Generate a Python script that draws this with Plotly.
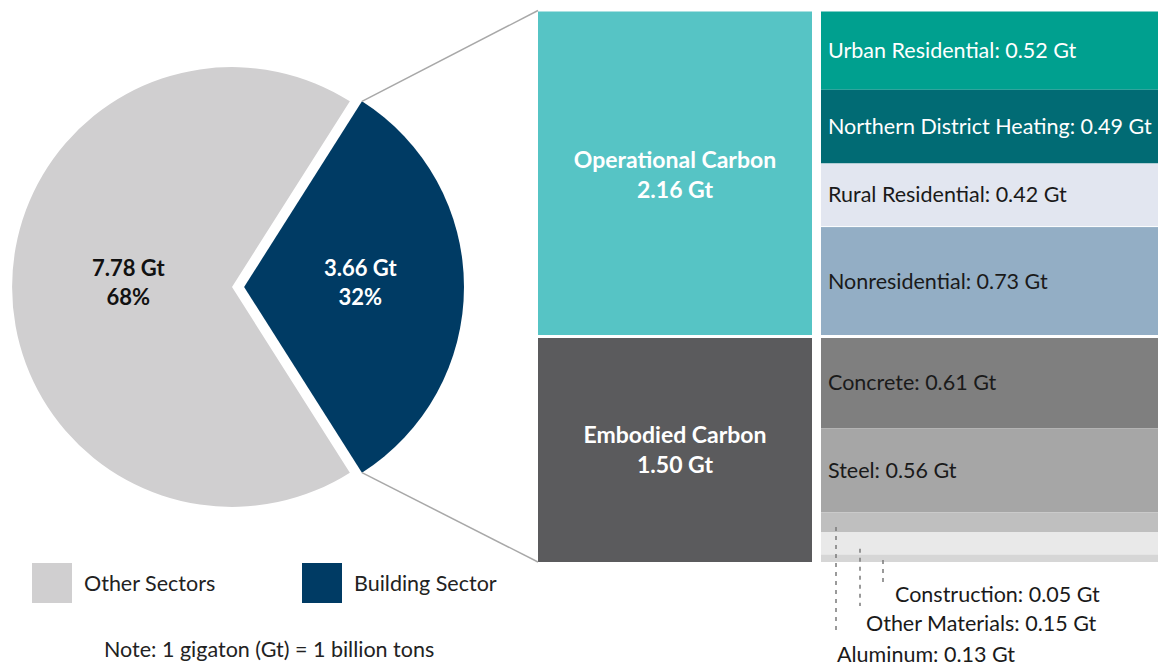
import math
import numpy as np
import plotly.graph_objects as go

# ---------------- data ----------------
pie_labels = ["Building Sector", "Other Sectors"]
pie_values = [3.66, 7.78]
pie_colors = ["#003B64", "#D0CFD0"]
pie_text_colors = ["#FFFFFF", "#111111"]

col1_labels = ["Operational Carbon", "Embodied Carbon"]
col1_values = [2.16, 1.50]
col1_colors = ["#56C4C5", "#5B5B5D"]

col2_labels = ["Urban Residential", "Northern District Heating", "Rural Residential",
               "Nonresidential", "Concrete", "Steel", "Aluminum", "Other Materials",
               "Construction"]
col2_values = [0.52, 0.49, 0.42, 0.73, 0.61, 0.56, 0.13, 0.15, 0.05]
col2_colors = ["#00A08F", "#016B74", "#E2E6F0", "#93AEC5", "#7F7F7F", "#A6A6A6",
               "#BFBFBF", "#E9E9E9", "#D6D6D6"]
col2_text_colors = ["#FFFFFF", "#FFFFFF", "#1A1A1A", "#1A1A1A", "#1A1A1A", "#1A1A1A",
                    "#1A1A1A", "#1A1A1A", "#1A1A1A"]

note_text = "Note: 1 gigaton (Gt) = 1 billion tons"

# ---------------- layout constants ----------------
W, H = 1158, 667
FONT = "Lato, 'Source Sans Pro', sans-serif"
FS = 21.5        # regular text size
FS_B1 = 23       # bold block labels
FS_B2 = 22       # bold pie labels
PX_TOP, PX_BOT = 11.5, 562.0
TOTAL = sum(col1_values)
SCALE = (PX_BOT - PX_TOP) / TOTAL


def gy(px):
    return (px - PX_TOP) / SCALE


Y_RANGE = [gy(H), gy(0)]

C1_X0, C1_X1 = 538, 812
C2_X0, C2_X1 = 821, 1158

# pie geometry (pixels)
PIE_CX, PIE_CY, PIE_HALF = 232, 287, 232
PULL = 0.055
LABEL_R = [0.53, 0.47]
LABEL_DY = -5
TEXT_DY = 2   # col2 labels sit slightly below block centres

fig = go.Figure()

# ---------------- pie ----------------
blue_angle = 360 * pie_values[0] / sum(pie_values)
rotation = 90 - blue_angle / 2
fig.add_trace(go.Pie(
    labels=pie_labels, values=pie_values, sort=False, direction="clockwise",
    rotation=rotation, pull=[PULL, 0],
    marker=dict(colors=pie_colors, line=dict(width=0)),
    textinfo="none",
    domain=dict(x=[(PIE_CX - PIE_HALF) / W, (PIE_CX + PIE_HALF) / W],
                y=[(H - PIE_CY - PIE_HALF - 2) / H, (H - PIE_CY + PIE_HALF + 2) / H]),
    showlegend=False, hoverinfo="label+value",
))

r = 2 * PIE_HALF / (2 + 2 * PULL)
total_pie = sum(pie_values)
# pie labels placed along each slice's mid-angle
start = 90 - rotation  # math angle (deg, ccw from +x) where first slice begins
for i, v in enumerate(pie_values):
    span = 360 * v / total_pie
    mid = math.radians(start - span / 2)
    start -= span
    off = PULL * r if i == 0 else 0
    lx = PIE_CX + (LABEL_R[i] * r + off) * math.cos(mid)
    ly = PIE_CY - (LABEL_R[i] * r + off) * math.sin(mid) + LABEL_DY
    fig.add_annotation(x=lx, y=gy(ly), xref="x", yref="y", showarrow=False,
                       text=f"<b>{v:.2f} Gt<br>{100 * v / total_pie:.0f}%</b>",
                       font=dict(size=FS_B2, color=pie_text_colors[i], family=FONT))

# ---------------- stacked blocks ----------------
base1 = np.concatenate([[0], np.cumsum(col1_values)[:-1]])
fig.add_trace(go.Bar(
    x=[(C1_X0 + C1_X1) / 2] * len(col1_values), y=col1_values, base=base1,
    width=C1_X1 - C1_X0,
    marker=dict(color=col1_colors, line=dict(width=0)),
    text=[f"<b>{l}<br>{v:.2f} Gt</b>" for l, v in zip(col1_labels, col1_values)],
    textposition="inside", insidetextanchor="middle", textangle=0,
    textfont=dict(size=FS_B1, color="white", family=FONT),
    showlegend=False, hoverinfo="skip",
))

base2 = np.concatenate([[0], np.cumsum(col2_values)[:-1]])
fig.add_trace(go.Bar(
    x=[(C2_X0 + C2_X1) / 2] * len(col2_values), y=col2_values, base=base2,
    width=C2_X1 - C2_X0,
    marker=dict(color=col2_colors, line=dict(width=0)),
    showlegend=False, hoverinfo="skip",
))

# white separators: between operational / embodied groups, and a thin one in col2
fig.add_shape(type="line", xref="x", yref="y", x0=C1_X0 - 2, x1=C2_X1,
              y0=col1_values[0], y1=col1_values[0], line=dict(color="white", width=3))
sep_thin = base2[3]
fig.add_shape(type="line", xref="x", yref="y", x0=C2_X0, x1=C2_X1,
              y0=sep_thin, y1=sep_thin, line=dict(color="white", width=1))

mid2 = base2 + np.array(col2_values) / 2
n_in = 6
fig.add_trace(go.Scatter(
    x=[C2_X0 + 7] * n_in, y=list(mid2[:n_in] + TEXT_DY / SCALE), mode="text",
    text=[f"{l}: {v:.2f} Gt" for l, v in zip(col2_labels[:n_in], col2_values[:n_in])],
    textposition="middle right",
    textfont=dict(size=FS, color=col2_text_colors[:n_in], family=FONT),
    showlegend=False, hoverinfo="skip",
))

# small segments: leader lines + labels
leaders = {  # label index: (leader x px, leader end px, label x px, label y px)
    6: (836, 632, 835, 654),
    7: (860, 606, 864, 623),
    8: (883, 582, 893, 594),
}
for i, (lx, lend, tx, ty) in leaders.items():
    fig.add_shape(type="line", xref="x", yref="y", x0=lx, x1=lx,
                  y0=mid2[i] + col2_values[i] * 0.25, y1=gy(lend),
                  line=dict(color="#7A7A7A", width=1.5, dash="4px,5px"))
    fig.add_annotation(x=tx, y=gy(ty), xref="x", yref="y", xanchor="left",
                       yanchor="middle", showarrow=False,
                       text=f"{col2_labels[i]}: {col2_values[i]:.2f} Gt",
                       font=dict(size=FS, color="#1A1A1A", family=FONT))

# ---------------- connector lines ----------------
half = math.radians(blue_angle / 2)
bx = PIE_CX + PULL * r
corner_top = (bx + r * math.cos(half), PIE_CY - r * math.sin(half))
corner_bot = (bx + r * math.cos(half), PIE_CY + r * math.sin(half))
for (px, py), (ex, ey) in [(corner_top, (C1_X0, PX_TOP - 1)), (corner_bot, (C1_X0, PX_BOT))]:
    fig.add_shape(type="line", xref="x", yref="y", x0=px, y0=gy(py), x1=ex, y1=gy(ey),
                  line=dict(color="#A8A8A8", width=1.5))

# ---------------- custom legend ----------------
leg_order = [1, 0]
leg_x = [52, 322]
leg_y = gy(583)
fig.add_trace(go.Scatter(
    x=leg_x, y=[leg_y] * 2, mode="markers",
    marker=dict(symbol="square", size=40, color=[pie_colors[i] for i in leg_order]),
    showlegend=False, hoverinfo="skip",
))
for xi, i in zip(leg_x, leg_order):
    fig.add_annotation(x=xi + 30, y=leg_y, xref="x", yref="y", xanchor="left",
                       yanchor="middle", showarrow=False, text=pie_labels[i],
                       font=dict(size=FS, color="#222222", family=FONT))

fig.add_annotation(x=102, y=gy(649), xref="x", yref="y", xanchor="left",
                   yanchor="middle", showarrow=False, text=note_text,
                   font=dict(size=FS, color="#222222", family=FONT))

fig.update_layout(
    width=W, height=H, margin=dict(l=0, r=0, t=0, b=0),
    paper_bgcolor="white", plot_bgcolor="white",
    barmode="overlay", showlegend=False,
    font=dict(family=FONT),
    xaxis=dict(range=[0, W], domain=[0, 1], visible=False, fixedrange=True),
    yaxis=dict(range=Y_RANGE, domain=[0, 1], visible=False, fixedrange=True),
)

fig.write_html("out.html", config={"displayModeBar": False},
               post_script="document.body.style.margin='0px';")
